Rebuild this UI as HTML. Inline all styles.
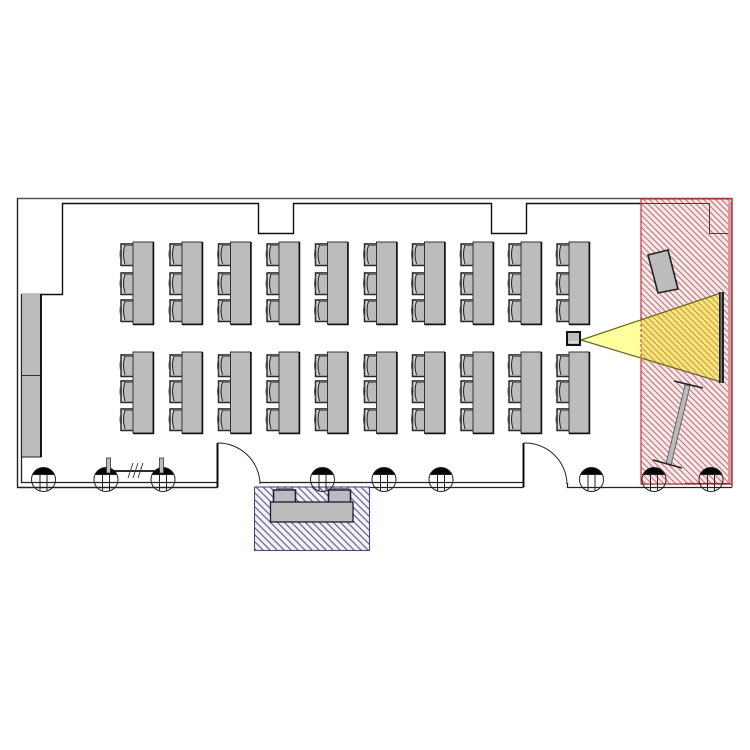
<!DOCTYPE html>
<html>
<head>
<meta charset="utf-8">
<title>Room layout</title>
<style>
html,body{margin:0;padding:0;background:#fff;width:750px;height:750px;overflow:hidden}
svg{display:block;filter:blur(0.35px)}
</style>
</head>
<body>
<svg width="750" height="750" viewBox="0 0 750 750" xmlns="http://www.w3.org/2000/svg">
<defs>
<pattern id="hr" width="6" height="6" patternUnits="userSpaceOnUse">
<path d="M-1,-1L7,7M-1,5L1,7M5,-1L7,1" stroke="#bd7f87" stroke-width="1.2"/>
</pattern>
<pattern id="hy" width="6" height="6" patternUnits="userSpaceOnUse">
<path d="M-1,-1L7,7M-1,5L1,7M5,-1L7,1" stroke="#c9a33f" stroke-width="1.2"/>
</pattern>
<pattern id="hb" width="7" height="7" patternUnits="userSpaceOnUse">
<path d="M-1,-1L8,8M-1,6L1,8M6,-1L8,1" stroke="#6a6a8c" stroke-width="1.3"/>
</pattern>
<g id="chair">
<rect x="-12" y="0" width="12" height="23" fill="#bcbcbc"/>
<path d="M-8,2Q-11,11 -8,21L-12,21V2Z" fill="#d2d2d2"/>
<path d="M0,1H-12V22.5H0" fill="none" stroke="#2a2a2a" stroke-width="1.5"/>
<path d="M0,2H-8" stroke="#666" stroke-width="1.8"/>
<path d="M-8,2Q-11,11 -8,21" fill="none" stroke="#222" stroke-width="1"/>
<path d="M-12,5Q-14,11 -12,18" fill="none" stroke="#555" stroke-width="1"/>
</g>
<g id="d1">
<use href="#chair" y="1"/>
<use href="#chair" y="30"/>
<use href="#chair" y="57"/>
<rect x="0" y="0" width="20" height="82" fill="#bcbcbc" stroke="#333" stroke-width="1"/>
<path d="M20.5,0V82.5H0" stroke="#111" stroke-width="1.5" fill="none"/>
</g>
<g id="d2">
<use href="#chair" y="2"/>
<use href="#chair" y="28"/>
<use href="#chair" y="56"/>
<rect x="0" y="0" width="20" height="81" fill="#bcbcbc" stroke="#333" stroke-width="1"/>
<path d="M20.5,0V81.5H0" stroke="#111" stroke-width="1.5" fill="none"/>
</g>
<g id="col">
<path d="M-10.9,-5A12,12 0 0 1 10.9,-5Z" fill="#000"/>
<circle r="12" fill="none" stroke="#222" stroke-width="1"/>
<path d="M-3.5,-5V11.5M3.5,-5V11.5M-11,-5H11" stroke="#222" stroke-width="1" fill="none"/>
</g>
</defs>

<!-- red zone -->
<rect x="641" y="199" width="91" height="286" fill="#fbe9e9"/>
<rect x="641" y="199" width="91" height="286" fill="url(#hr)"/>
<rect x="728" y="203" width="4" height="280" fill="#d59a9f"/>

<!-- walls -->
<path d="M17,198.5H732V487" fill="none" stroke="#555" stroke-width="1.4"/>
<path d="M17.5,198V487.5H217.5" fill="none" stroke="#222" stroke-width="1.4"/>
<path d="M22,294.5H62.5V203.5H258.5V233.5H293.5V203.5H491.5V233.5H526.5V203.5H641" fill="none" stroke="#111" stroke-width="1.4"/>
<path d="M641,203.5H709.5V233.5H728" fill="none" stroke="#6a3030" stroke-width="1"/>
<path d="M21.5,294V482.5H217" fill="none" stroke="#222" stroke-width="1.3"/>
<path d="M641,199H732V484H641Z" fill="none" stroke="#c0343d" stroke-width="1.2"/>
<path d="M217.5,443V487.5M523.5,443V487.5" stroke="#000" stroke-width="1.9"/>
<path d="M217.5,443A42,42 0 0 1 260,484" fill="none" stroke="#222" stroke-width="1"/>
<path d="M524,443A42,42 0 0 1 567,484" fill="none" stroke="#222" stroke-width="1"/>
<path d="M260,482.5H523M260,487.5H523" stroke="#222" stroke-width="1.3"/>
<path d="M567.5,483V487.5H732" fill="none" stroke="#222" stroke-width="1.3"/>
<path d="M685,483.5H730" stroke="#9c2a33" stroke-width="1.2"/>

<!-- cabinet -->
<rect x="21" y="294" width="20" height="163" fill="#bcbcbc"/>
<path d="M21.5,294V457H41V294" fill="none" stroke="#222" stroke-width="1"/>
<path d="M41,294V457" stroke="#000" stroke-width="1.8"/>
<path d="M21,375.5H41" stroke="#333" stroke-width="1"/>

<!-- desks -->
<use href="#d1" x="133" y="242"/><use href="#d1" x="182" y="242"/><use href="#d1" x="230.5" y="242"/><use href="#d1" x="279" y="242"/><use href="#d1" x="327.5" y="242"/><use href="#d1" x="376.5" y="242"/><use href="#d1" x="424.5" y="242"/><use href="#d1" x="473" y="242"/><use href="#d1" x="521" y="242"/><use href="#d1" x="569" y="242"/>
<use href="#d2" x="133" y="352"/><use href="#d2" x="182" y="352"/><use href="#d2" x="230.5" y="352"/><use href="#d2" x="279" y="352"/><use href="#d2" x="327.5" y="352"/><use href="#d2" x="376.5" y="352"/><use href="#d2" x="424.5" y="352"/><use href="#d2" x="473" y="352"/><use href="#d2" x="521" y="352"/><use href="#d2" x="569" y="352"/>

<!-- rotated table in red zone -->
<polygon points="648,255 668,250 678,289 658,293" fill="#bcbcbc" stroke="#222" stroke-width="1.6"/>

<!-- projector beam -->
<polygon points="581,340 641,319 641,360" fill="#ffff9c"/>
<polygon points="641,319 721,293 721,382 641,360" fill="#fbe57f"/>
<polygon points="641,319 721,293 721,382 641,360" fill="url(#hy)"/>
<path d="M641,319V360" stroke="#c0343d" stroke-width="1" stroke-dasharray="3 2"/>
<path d="M581,340L721,293M581,340L721,382" stroke="#66633a" stroke-width="1.2" fill="none"/>
<rect x="719" y="292" width="5" height="91" fill="#222"/>
<rect x="720.5" y="292" width="1.5" height="91" fill="#777"/>
<rect x="567" y="332" width="13" height="13" fill="#bcbcbc" stroke="#111" stroke-width="2"/>
<path d="M569,342H578" stroke="#fff" stroke-width="1"/>

<!-- screen stand -->
<polygon points="685,385 690,386 671,465 666,464" fill="#b9b9b9" stroke="#555" stroke-width="0.8"/>
<path d="M674,381L703,388M653,460L682,468" stroke="#222" stroke-width="1.6"/>

<!-- blue zone -->
<rect x="254.5" y="487" width="115" height="63.5" fill="#f2f2f8"/>
<rect x="254.5" y="487" width="115" height="63.5" fill="url(#hb)" stroke="#4a4a80" stroke-width="1.1"/>
<rect x="273.5" y="490" width="22" height="13" fill="#bcbcbc"/>
<path d="M273.5,503V490H295.5V503" fill="none" stroke="#1a1a50" stroke-width="1.6"/>
<path d="M276,488.5H293" stroke="#777" stroke-width="1"/>
<rect x="328.5" y="490" width="22" height="13" fill="#bcbcbc"/>
<path d="M328.5,503V490H350.5V503" fill="none" stroke="#1a1a50" stroke-width="1.6"/>
<path d="M331,488.5H348" stroke="#777" stroke-width="1"/>
<rect x="270.5" y="502" width="82.5" height="20" fill="#bcbcbc" stroke="#1a1a40" stroke-width="1.3"/>

<!-- columns -->
<use href="#col" x="43.5" y="479.5"/>
<use href="#col" x="106" y="479.5"/>
<use href="#col" x="163" y="479.5"/>
<use href="#col" x="322.5" y="479.5"/>
<use href="#col" x="384" y="479.5"/>
<use href="#col" x="441" y="479.5"/>
<use href="#col" x="591.5" y="479.5"/>
<use href="#col" x="654" y="479.5"/>
<use href="#col" x="711" y="479.5"/>

<!-- poles and rail -->
<rect x="106.5" y="458" width="4" height="15" fill="#bcbcbc" stroke="#333" stroke-width="0.8"/>
<rect x="159.5" y="458" width="4" height="15" fill="#bcbcbc" stroke="#333" stroke-width="0.8"/>
<path d="M110,471H160" stroke="#111" stroke-width="1.8"/>
<path d="M128,478L133,463M133,478L138,463M138,478L143,463" stroke="#333" stroke-width="0.9" fill="none"/>
</svg>
</body>
</html>
